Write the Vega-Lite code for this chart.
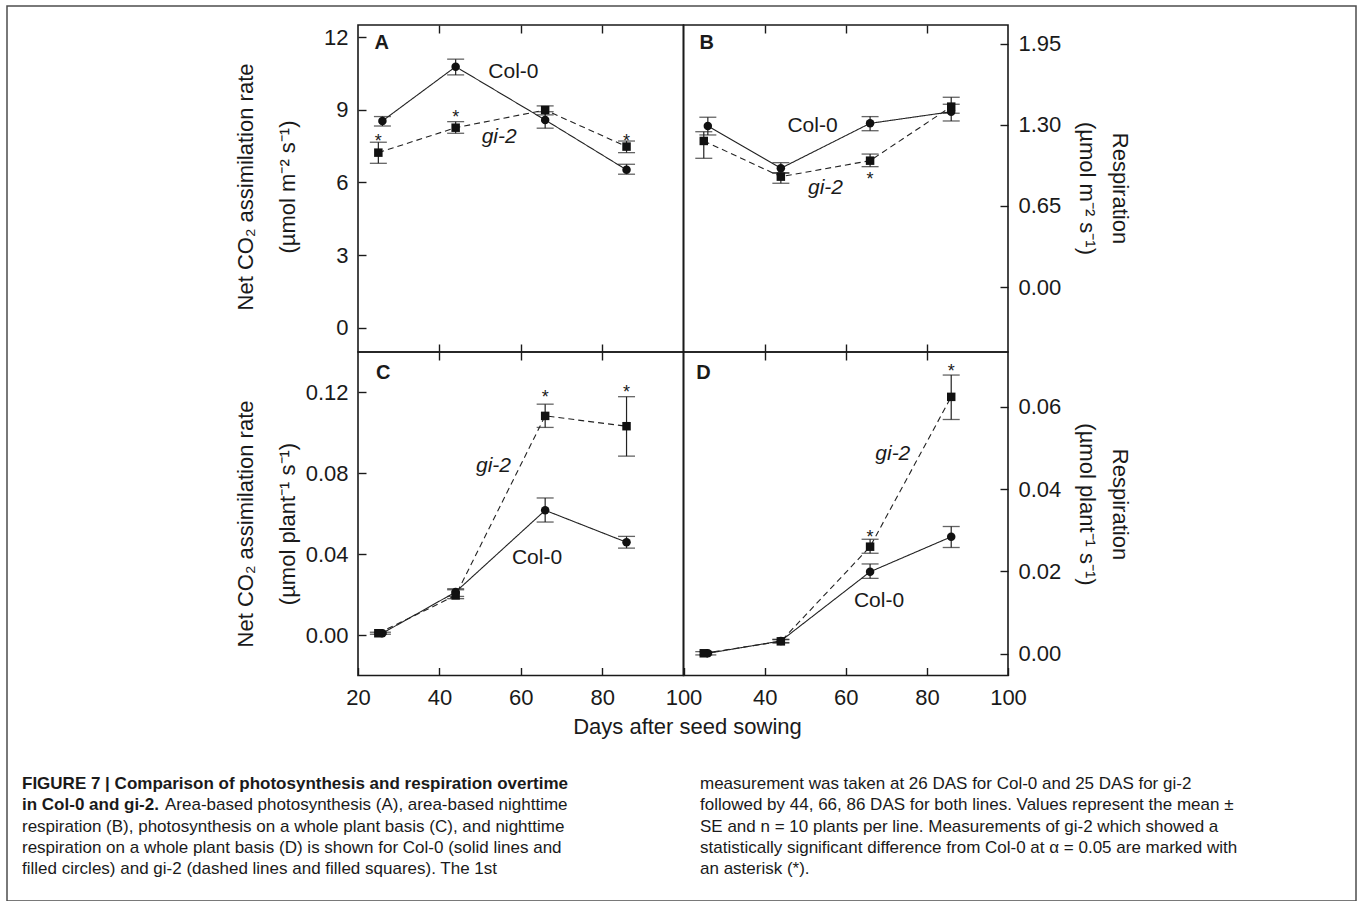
{
  "$schema": "https://vega.github.io/schema/vega-lite/v6.json",
  "width": 1357,
  "height": 901,
  "autosize": {"type": "fit", "contains": "padding"},
  "padding": {"left": 7, "top": 6, "right": 1, "bottom": 0},
  "background": "white",
  "config": {
    "view": {"stroke": "#4d4d4d", "strokeWidth": 1.5},
    "font": "Liberation Sans",
    "axis": {
      "grid": false, "domain": false,
      "tickColor": "#1a1a1a", "tickWidth": 1.4, "tickSize": -8,
      "labelFont": "Liberation Sans", "labelFontSize": 22, "labelColor": "#1a1a1a",
      "labelPadding": 18, "labelFlush": false, "labelOverlap": false,
      "titleFont": "Liberation Sans", "titleFontSize": 22, "titleFontWeight": "normal",
      "titleColor": "#1a1a1a", "titleAlign": "center", "titleBaseline": "middle"
    }
  },
  "datasets": {
    "pts": [
      {"panel": "A", "line": "Col-0", "das": 26, "mean": 8.54, "lo": 8.33, "hi": 8.72},
      {"panel": "A", "line": "Col-0", "das": 44, "mean": 10.78, "lo": 10.44, "hi": 11.09},
      {"panel": "A", "line": "Col-0", "das": 66, "mean": 8.58, "lo": 8.24, "hi": 8.92},
      {"panel": "A", "line": "Col-0", "das": 86, "mean": 6.52, "lo": 6.34, "hi": 6.75},
      {"panel": "A", "line": "gi-2", "das": 25, "mean": 7.23, "lo": 6.79, "hi": 7.66},
      {"panel": "A", "line": "gi-2", "das": 44, "mean": 8.26, "lo": 8.03, "hi": 8.51},
      {"panel": "A", "line": "gi-2", "das": 66, "mean": 8.99, "lo": 8.79, "hi": 9.16},
      {"panel": "A", "line": "gi-2", "das": 86, "mean": 7.48, "lo": 7.23, "hi": 7.71},
      {"panel": "B", "line": "Col-0", "das": 26, "mean": 1.291, "lo": 1.219, "hi": 1.361},
      {"panel": "B", "line": "Col-0", "das": 44, "mean": 0.952, "lo": 0.912, "hi": 0.997},
      {"panel": "B", "line": "Col-0", "das": 66, "mean": 1.312, "lo": 1.253, "hi": 1.366},
      {"panel": "B", "line": "Col-0", "das": 86, "mean": 1.405, "lo": 1.331, "hi": 1.465},
      {"panel": "B", "line": "gi-2", "das": 25, "mean": 1.171, "lo": 1.032, "hi": 1.245},
      {"panel": "B", "line": "gi-2", "das": 44, "mean": 0.885, "lo": 0.832, "hi": 0.917},
      {"panel": "B", "line": "gi-2", "das": 66, "mean": 1.013, "lo": 0.965, "hi": 1.066},
      {"panel": "B", "line": "gi-2", "das": 86, "mean": 1.446, "lo": 1.393, "hi": 1.521},
      {"panel": "C", "line": "Col-0", "das": 26, "mean": 0.0009, "lo": 0.0004, "hi": 0.0014},
      {"panel": "C", "line": "Col-0", "das": 44, "mean": 0.0213, "lo": 0.0191, "hi": 0.0229},
      {"panel": "C", "line": "Col-0", "das": 66, "mean": 0.0617, "lo": 0.0559, "hi": 0.0678},
      {"panel": "C", "line": "Col-0", "das": 86, "mean": 0.0459, "lo": 0.043, "hi": 0.0488},
      {"panel": "C", "line": "gi-2", "das": 25, "mean": 0.0009, "lo": 0.0004, "hi": 0.0014},
      {"panel": "C", "line": "gi-2", "das": 44, "mean": 0.0196, "lo": 0.018, "hi": 0.0224},
      {"panel": "C", "line": "gi-2", "das": 66, "mean": 0.1084, "lo": 0.1027, "hi": 0.1142},
      {"panel": "C", "line": "gi-2", "das": 86, "mean": 0.1033, "lo": 0.0885, "hi": 0.1179},
      {"panel": "D", "line": "Col-0", "das": 26, "mean": 0.0001, "lo": -0.0003, "hi": 0.0005},
      {"panel": "D", "line": "Col-0", "das": 44, "mean": 0.0031, "lo": 0.0027, "hi": 0.0035},
      {"panel": "D", "line": "Col-0", "das": 66, "mean": 0.0199, "lo": 0.0183, "hi": 0.0218},
      {"panel": "D", "line": "Col-0", "das": 86, "mean": 0.0284, "lo": 0.0258, "hi": 0.0309},
      {"panel": "D", "line": "gi-2", "das": 25, "mean": 0.0001, "lo": -0.0003, "hi": 0.0005},
      {"panel": "D", "line": "gi-2", "das": 44, "mean": 0.003, "lo": 0.0026, "hi": 0.0034},
      {"panel": "D", "line": "gi-2", "das": 66, "mean": 0.026, "lo": 0.0244, "hi": 0.0278},
      {"panel": "D", "line": "gi-2", "das": 86, "mean": 0.0624, "lo": 0.0569, "hi": 0.0677}
    ],
    "stars": [
      {"panel": "A", "das": 25, "val": 7.89},
      {"panel": "A", "das": 44, "val": 8.86},
      {"panel": "A", "das": 86, "val": 7.89},
      {"panel": "B", "das": 66, "val": 0.898},
      {"panel": "C", "das": 66, "val": 0.1195},
      {"panel": "C", "das": 86, "val": 0.1223},
      {"panel": "D", "das": 66, "val": 0.0294},
      {"panel": "D", "das": 86, "val": 0.0697}
    ],
    "labels": [
      {"panel": "A", "line": "Col-0", "das": 58.2, "val": 10.57},
      {"panel": "A", "line": "gi-2", "das": 54.7, "val": 7.86},
      {"panel": "B", "line": "Col-0", "das": 51.8, "val": 1.292},
      {"panel": "B", "line": "gi-2", "das": 55.0, "val": 0.792},
      {"panel": "C", "line": "Col-0", "das": 64.0, "val": 0.0382},
      {"panel": "C", "line": "gi-2", "das": 53.3, "val": 0.0836},
      {"panel": "D", "line": "Col-0", "das": 68.2, "val": 0.01285},
      {"panel": "D", "line": "gi-2", "das": 71.6, "val": 0.0485}
    ],
    "letters": [
      {"panel": "A", "das": 25.8, "val": 11.75},
      {"panel": "B", "das": 25.7, "val": 1.954},
      {"panel": "C", "das": 26.2, "val": 0.1294},
      {"panel": "D", "das": 24.9, "val": 0.0681}
    ],
    "caption": [
      {"col": 0, "row": 1, "part": "head", "text": "FIGURE 7 | Comparison of photosynthesis and respiration overtime"},
      {"col": 0, "row": 2, "part": "head", "text": "in Col-0 and gi-2."},
      {"col": 0, "row": 2, "part": "rest", "text": "Area-based photosynthesis (A), area-based nighttime"},
      {"col": 0, "row": 3, "part": "body", "text": "respiration (B), photosynthesis on a whole plant basis (C), and nighttime"},
      {"col": 0, "row": 4, "part": "body", "text": "respiration on a whole plant basis (D) is shown for Col-0 (solid lines and"},
      {"col": 0, "row": 5, "part": "body", "text": "filled circles) and gi-2 (dashed lines and filled squares). The 1st"},
      {"col": 1, "row": 1, "part": "body", "text": "measurement was taken at 26 DAS for Col-0 and 25 DAS for gi-2"},
      {"col": 1, "row": 2, "part": "body", "text": "followed by 44, 66, 86 DAS for both lines. Values represent the mean ±"},
      {"col": 1, "row": 3, "part": "body", "text": "SE and n = 10 plants per line. Measurements of gi-2 which showed a"},
      {"col": 1, "row": 4, "part": "body", "text": "statistically significant difference from Col-0 at α = 0.05 are marked with"},
      {"col": 1, "row": 5, "part": "body", "text": "an asterisk (*)."}
    ]
  },
  "layer": [
    {
      "layer": [
        {
          "data": {"name": "pts"},
          "transform": [{"filter": "datum.panel === 'A'"}],
          "mark": {"type": "line", "color": "#222222", "strokeWidth": 1.1},
          "encoding": {
            "x": {"field": "das", "type": "quantitative",
              "scale": {"domain": [20, 100], "range": [351, 676.5], "nice": false, "zero": false},
              "axis": {"orient": "bottom", "offset": -549, "values": [40, 60, 80], "labels": false, "title": null}},
            "y": {"field": "mean", "type": "quantitative",
              "scale": {"domain": [-1, 12.5], "range": [346, 19], "nice": false, "zero": false},
              "axis": {"orient": "left", "offset": -351, "values": [0, 3, 6, 9, 12], "format": "d",
                "title": ["Net CO₂ assimilation rate", "(µmol m⁻² s⁻¹)"],
                "titleAngle": -90, "titleX": -113, "titleY": 180.5, "titleLineHeight": 42}},
            "strokeDash": {"field": "line", "type": "nominal", "scale": {"domain": ["Col-0", "gi-2"], "range": [[1, 0], [6, 4]]}, "legend": null}
          }
        },
        {
          "data": {"name": "pts"},
          "transform": [{"filter": "datum.panel === 'A'"}],
          "mark": {"type": "rule", "color": "#222222", "strokeWidth": 1.2},
          "encoding": {
            "x": {"field": "das", "type": "quantitative",
              "axis": {"orient": "top", "offset": -19, "values": [40, 60, 80], "labels": false, "title": null}},
            "y": {"field": "lo", "type": "quantitative", "axis": null},
            "y2": {"field": "hi"}
          }
        },
        {
          "data": {"name": "pts"},
          "transform": [{"filter": "datum.panel === 'A'"}],
          "mark": {"type": "tick", "orient": "horizontal", "color": "#222222", "size": 17, "thickness": 1.3},
          "encoding": {
            "x": {"field": "das", "type": "quantitative", "axis": null},
            "y": {"field": "lo", "type": "quantitative", "axis": null}
          }
        },
        {
          "data": {"name": "pts"},
          "transform": [{"filter": "datum.panel === 'A'"}],
          "mark": {"type": "tick", "orient": "horizontal", "color": "#222222", "size": 17, "thickness": 1.3},
          "encoding": {
            "x": {"field": "das", "type": "quantitative", "axis": null},
            "y": {"field": "hi", "type": "quantitative", "axis": null}
          }
        },
        {
          "data": {"name": "pts"},
          "transform": [{"filter": "datum.panel === 'A'"}],
          "mark": {"type": "point", "filled": true, "color": "#111111", "opacity": 1, "size": 72},
          "encoding": {
            "x": {"field": "das", "type": "quantitative", "axis": null},
            "y": {"field": "mean", "type": "quantitative", "axis": null},
            "shape": {"field": "line", "type": "nominal", "scale": {"domain": ["Col-0", "gi-2"], "range": ["circle", "square"]}, "legend": null}
          }
        },
        {
          "data": {"name": "letters"},
          "transform": [{"filter": "datum.panel === 'A'"}],
          "mark": {"type": "rect", "fillOpacity": 0, "stroke": "#1a1a1a", "strokeWidth": 1.6},
          "encoding": {
            "x": {"datum": 20, "type": "quantitative", "axis": null},
            "x2": {"datum": 100},
            "y": {"datum": -1, "type": "quantitative", "axis": null},
            "y2": {"datum": 12.5}
          }
        },
        {
          "data": {"name": "letters"},
          "transform": [{"filter": "datum.panel === 'A'"}],
          "mark": {"type": "text", "fontWeight": "bold", "fontSize": 20, "align": "center", "baseline": "middle", "color": "#1a1a1a"},
          "encoding": {
            "x": {"field": "das", "type": "quantitative", "axis": null},
            "y": {"field": "val", "type": "quantitative", "axis": null},
            "text": {"field": "panel"}
          }
        },
        {
          "data": {"name": "stars"},
          "transform": [{"filter": "datum.panel === 'A'"}],
          "mark": {"type": "text", "fontSize": 18, "align": "center", "baseline": "middle", "dy": 5, "color": "#1a1a1a", "text": "*"},
          "encoding": {
            "x": {"field": "das", "type": "quantitative", "axis": null},
            "y": {"field": "val", "type": "quantitative", "axis": null}
          }
        },
        {
          "data": {"name": "labels"},
          "transform": [{"filter": "datum.panel === 'A' && datum.line === 'Col-0'"}],
          "mark": {"type": "text", "fontSize": 21, "align": "center", "baseline": "middle", "color": "#1a1a1a"},
          "encoding": {
            "x": {"field": "das", "type": "quantitative", "axis": null},
            "y": {"field": "val", "type": "quantitative", "axis": null},
            "text": {"field": "line"}
          }
        },
        {
          "data": {"name": "labels"},
          "transform": [{"filter": "datum.panel === 'A' && datum.line === 'gi-2'"}],
          "mark": {"type": "text", "fontSize": 21, "fontStyle": "italic", "align": "center", "baseline": "middle", "color": "#1a1a1a"},
          "encoding": {
            "x": {"field": "das", "type": "quantitative", "axis": null},
            "y": {"field": "val", "type": "quantitative", "axis": null},
            "text": {"field": "line"}
          }
        }
      ],
      "resolve": {"axis": {"x": "independent", "y": "independent"}}
    },
    {
      "layer": [
        {
          "data": {"name": "pts"},
          "transform": [{"filter": "datum.panel === 'B'"}],
          "mark": {"type": "line", "color": "#222222", "strokeWidth": 1.1},
          "encoding": {
            "x": {"field": "das", "type": "quantitative",
              "scale": {"domain": [20, 100], "range": [676.5, 1001], "nice": false, "zero": false},
              "axis": {"orient": "bottom", "offset": -549, "values": [40, 60, 80], "labels": false, "title": null}},
            "y": {"field": "mean", "type": "quantitative",
              "scale": {"domain": [-0.52, 2.1], "range": [346, 19], "nice": false, "zero": false},
              "axis": {"orient": "right", "offset": -348, "values": [0, 0.65, 1.3, 1.95], "format": ".2f",
                "title": ["Respiration", "(µmol m⁻² s⁻¹)"],
                "titleAngle": 90, "titleX": 111.4, "titleY": 182, "titleLineHeight": 33}},
            "strokeDash": {"field": "line", "type": "nominal", "scale": {"domain": ["Col-0", "gi-2"], "range": [[1, 0], [6, 4]]}, "legend": null}
          }
        },
        {
          "data": {"name": "pts"},
          "transform": [{"filter": "datum.panel === 'B'"}],
          "mark": {"type": "rule", "color": "#222222", "strokeWidth": 1.2},
          "encoding": {
            "x": {"field": "das", "type": "quantitative",
              "axis": {"orient": "top", "offset": -19, "values": [40, 60, 80], "labels": false, "title": null}},
            "y": {"field": "lo", "type": "quantitative", "axis": null},
            "y2": {"field": "hi"}
          }
        },
        {
          "data": {"name": "pts"},
          "transform": [{"filter": "datum.panel === 'B'"}],
          "mark": {"type": "tick", "orient": "horizontal", "color": "#222222", "size": 17, "thickness": 1.3},
          "encoding": {
            "x": {"field": "das", "type": "quantitative", "axis": null},
            "y": {"field": "lo", "type": "quantitative", "axis": null}
          }
        },
        {
          "data": {"name": "pts"},
          "transform": [{"filter": "datum.panel === 'B'"}],
          "mark": {"type": "tick", "orient": "horizontal", "color": "#222222", "size": 17, "thickness": 1.3},
          "encoding": {
            "x": {"field": "das", "type": "quantitative", "axis": null},
            "y": {"field": "hi", "type": "quantitative", "axis": null}
          }
        },
        {
          "data": {"name": "pts"},
          "transform": [{"filter": "datum.panel === 'B'"}],
          "mark": {"type": "point", "filled": true, "color": "#111111", "opacity": 1, "size": 72},
          "encoding": {
            "x": {"field": "das", "type": "quantitative", "axis": null},
            "y": {"field": "mean", "type": "quantitative", "axis": null},
            "shape": {"field": "line", "type": "nominal", "scale": {"domain": ["Col-0", "gi-2"], "range": ["circle", "square"]}, "legend": null}
          }
        },
        {
          "data": {"name": "letters"},
          "transform": [{"filter": "datum.panel === 'B'"}],
          "mark": {"type": "rect", "fillOpacity": 0, "stroke": "#1a1a1a", "strokeWidth": 1.6},
          "encoding": {
            "x": {"datum": 20, "type": "quantitative", "axis": null},
            "x2": {"datum": 100},
            "y": {"datum": -0.52, "type": "quantitative", "axis": null},
            "y2": {"datum": 2.1}
          }
        },
        {
          "data": {"name": "letters"},
          "transform": [{"filter": "datum.panel === 'B'"}],
          "mark": {"type": "text", "fontWeight": "bold", "fontSize": 20, "align": "center", "baseline": "middle", "color": "#1a1a1a"},
          "encoding": {
            "x": {"field": "das", "type": "quantitative", "axis": null},
            "y": {"field": "val", "type": "quantitative", "axis": null},
            "text": {"field": "panel"}
          }
        },
        {
          "data": {"name": "stars"},
          "transform": [{"filter": "datum.panel === 'B'"}],
          "mark": {"type": "text", "fontSize": 18, "align": "center", "baseline": "middle", "dy": 5, "color": "#1a1a1a", "text": "*"},
          "encoding": {
            "x": {"field": "das", "type": "quantitative", "axis": null},
            "y": {"field": "val", "type": "quantitative", "axis": null}
          }
        },
        {
          "data": {"name": "labels"},
          "transform": [{"filter": "datum.panel === 'B' && datum.line === 'Col-0'"}],
          "mark": {"type": "text", "fontSize": 21, "align": "center", "baseline": "middle", "color": "#1a1a1a"},
          "encoding": {
            "x": {"field": "das", "type": "quantitative", "axis": null},
            "y": {"field": "val", "type": "quantitative", "axis": null},
            "text": {"field": "line"}
          }
        },
        {
          "data": {"name": "labels"},
          "transform": [{"filter": "datum.panel === 'B' && datum.line === 'gi-2'"}],
          "mark": {"type": "text", "fontSize": 21, "fontStyle": "italic", "align": "center", "baseline": "middle", "color": "#1a1a1a"},
          "encoding": {
            "x": {"field": "das", "type": "quantitative", "axis": null},
            "y": {"field": "val", "type": "quantitative", "axis": null},
            "text": {"field": "line"}
          }
        }
      ],
      "resolve": {"axis": {"x": "independent", "y": "independent"}}
    },
    {
      "layer": [
        {
          "data": {"name": "pts"},
          "transform": [{"filter": "datum.panel === 'C'"}],
          "mark": {"type": "line", "color": "#222222", "strokeWidth": 1.1},
          "encoding": {
            "x": {"field": "das", "type": "quantitative",
              "scale": {"domain": [20, 100], "range": [351, 676.5], "nice": false, "zero": false},
              "axis": {"orient": "bottom", "offset": -225.5, "values": [20, 40, 60, 80, 100], "labelPadding": 20,
                "title": "Days after seed sowing", "titleX": 680, "titleY": 57.5, "titleAngle": 0, "titleBaseline": "alphabetic"}},
            "y": {"field": "mean", "type": "quantitative",
              "scale": {"domain": [-0.02, 0.14], "range": [669.5, 346], "nice": false, "zero": false},
              "axis": {"orient": "left", "offset": -351, "values": [0, 0.04, 0.08, 0.12], "format": ".2f",
                "title": ["Net CO₂ assimilation rate", "(µmol plant⁻¹ s⁻¹)"],
                "titleAngle": -90, "titleX": -113, "titleY": 517.5, "titleLineHeight": 42}},
            "strokeDash": {"field": "line", "type": "nominal", "scale": {"domain": ["Col-0", "gi-2"], "range": [[1, 0], [6, 4]]}, "legend": null}
          }
        },
        {
          "data": {"name": "pts"},
          "transform": [{"filter": "datum.panel === 'C'"}],
          "mark": {"type": "rule", "color": "#222222", "strokeWidth": 1.2},
          "encoding": {
            "x": {"field": "das", "type": "quantitative",
              "axis": {"orient": "top", "offset": -346, "values": [40, 60, 80], "labels": false, "title": null}},
            "y": {"field": "lo", "type": "quantitative", "axis": null},
            "y2": {"field": "hi"}
          }
        },
        {
          "data": {"name": "pts"},
          "transform": [{"filter": "datum.panel === 'C'"}],
          "mark": {"type": "tick", "orient": "horizontal", "color": "#222222", "size": 17, "thickness": 1.3},
          "encoding": {
            "x": {"field": "das", "type": "quantitative", "axis": null},
            "y": {"field": "lo", "type": "quantitative", "axis": null}
          }
        },
        {
          "data": {"name": "pts"},
          "transform": [{"filter": "datum.panel === 'C'"}],
          "mark": {"type": "tick", "orient": "horizontal", "color": "#222222", "size": 17, "thickness": 1.3},
          "encoding": {
            "x": {"field": "das", "type": "quantitative", "axis": null},
            "y": {"field": "hi", "type": "quantitative", "axis": null}
          }
        },
        {
          "data": {"name": "pts"},
          "transform": [{"filter": "datum.panel === 'C'"}],
          "mark": {"type": "point", "filled": true, "color": "#111111", "opacity": 1, "size": 72},
          "encoding": {
            "x": {"field": "das", "type": "quantitative", "axis": null},
            "y": {"field": "mean", "type": "quantitative", "axis": null},
            "shape": {"field": "line", "type": "nominal", "scale": {"domain": ["Col-0", "gi-2"], "range": ["circle", "square"]}, "legend": null}
          }
        },
        {
          "data": {"name": "letters"},
          "transform": [{"filter": "datum.panel === 'C'"}],
          "mark": {"type": "rect", "fillOpacity": 0, "stroke": "#1a1a1a", "strokeWidth": 1.6},
          "encoding": {
            "x": {"datum": 20, "type": "quantitative", "axis": null},
            "x2": {"datum": 100},
            "y": {"datum": -0.02, "type": "quantitative", "axis": null},
            "y2": {"datum": 0.14}
          }
        },
        {
          "data": {"name": "letters"},
          "transform": [{"filter": "datum.panel === 'C'"}],
          "mark": {"type": "text", "fontWeight": "bold", "fontSize": 20, "align": "center", "baseline": "middle", "color": "#1a1a1a"},
          "encoding": {
            "x": {"field": "das", "type": "quantitative", "axis": null},
            "y": {"field": "val", "type": "quantitative", "axis": null},
            "text": {"field": "panel"}
          }
        },
        {
          "data": {"name": "stars"},
          "transform": [{"filter": "datum.panel === 'C'"}],
          "mark": {"type": "text", "fontSize": 18, "align": "center", "baseline": "middle", "dy": 5, "color": "#1a1a1a", "text": "*"},
          "encoding": {
            "x": {"field": "das", "type": "quantitative", "axis": null},
            "y": {"field": "val", "type": "quantitative", "axis": null}
          }
        },
        {
          "data": {"name": "labels"},
          "transform": [{"filter": "datum.panel === 'C' && datum.line === 'Col-0'"}],
          "mark": {"type": "text", "fontSize": 21, "align": "center", "baseline": "middle", "color": "#1a1a1a"},
          "encoding": {
            "x": {"field": "das", "type": "quantitative", "axis": null},
            "y": {"field": "val", "type": "quantitative", "axis": null},
            "text": {"field": "line"}
          }
        },
        {
          "data": {"name": "labels"},
          "transform": [{"filter": "datum.panel === 'C' && datum.line === 'gi-2'"}],
          "mark": {"type": "text", "fontSize": 21, "fontStyle": "italic", "align": "center", "baseline": "middle", "color": "#1a1a1a"},
          "encoding": {
            "x": {"field": "das", "type": "quantitative", "axis": null},
            "y": {"field": "val", "type": "quantitative", "axis": null},
            "text": {"field": "line"}
          }
        }
      ],
      "resolve": {"axis": {"x": "independent", "y": "independent"}}
    },
    {
      "layer": [
        {
          "data": {"name": "pts"},
          "transform": [{"filter": "datum.panel === 'D'"}],
          "mark": {"type": "line", "color": "#222222", "strokeWidth": 1.1},
          "encoding": {
            "x": {"field": "das", "type": "quantitative",
              "scale": {"domain": [20, 100], "range": [676.5, 1001], "nice": false, "zero": false},
              "axis": {"orient": "bottom", "offset": -225.5, "values": [40, 60, 80, 100], "labelPadding": 20, "title": null}},
            "y": {"field": "mean", "type": "quantitative",
              "scale": {"domain": [-0.0053, 0.0733], "range": [669.5, 346], "nice": false, "zero": false},
              "axis": {"orient": "right", "offset": -348, "values": [0, 0.02, 0.04, 0.06], "format": ".2f",
                "title": ["Respiration", "(µmol plant⁻¹ s⁻¹)"],
                "titleAngle": 90, "titleX": 111.4, "titleY": 498, "titleLineHeight": 33}},
            "strokeDash": {"field": "line", "type": "nominal", "scale": {"domain": ["Col-0", "gi-2"], "range": [[1, 0], [6, 4]]}, "legend": null}
          }
        },
        {
          "data": {"name": "pts"},
          "transform": [{"filter": "datum.panel === 'D'"}],
          "mark": {"type": "rule", "color": "#222222", "strokeWidth": 1.2},
          "encoding": {
            "x": {"field": "das", "type": "quantitative",
              "axis": {"orient": "top", "offset": -346, "values": [40, 60, 80], "labels": false, "title": null}},
            "y": {"field": "lo", "type": "quantitative", "axis": null},
            "y2": {"field": "hi"}
          }
        },
        {
          "data": {"name": "pts"},
          "transform": [{"filter": "datum.panel === 'D'"}],
          "mark": {"type": "tick", "orient": "horizontal", "color": "#222222", "size": 17, "thickness": 1.3},
          "encoding": {
            "x": {"field": "das", "type": "quantitative", "axis": null},
            "y": {"field": "lo", "type": "quantitative", "axis": null}
          }
        },
        {
          "data": {"name": "pts"},
          "transform": [{"filter": "datum.panel === 'D'"}],
          "mark": {"type": "tick", "orient": "horizontal", "color": "#222222", "size": 17, "thickness": 1.3},
          "encoding": {
            "x": {"field": "das", "type": "quantitative", "axis": null},
            "y": {"field": "hi", "type": "quantitative", "axis": null}
          }
        },
        {
          "data": {"name": "pts"},
          "transform": [{"filter": "datum.panel === 'D'"}],
          "mark": {"type": "point", "filled": true, "color": "#111111", "opacity": 1, "size": 72},
          "encoding": {
            "x": {"field": "das", "type": "quantitative", "axis": null},
            "y": {"field": "mean", "type": "quantitative", "axis": null},
            "shape": {"field": "line", "type": "nominal", "scale": {"domain": ["Col-0", "gi-2"], "range": ["circle", "square"]}, "legend": null}
          }
        },
        {
          "data": {"name": "letters"},
          "transform": [{"filter": "datum.panel === 'D'"}],
          "mark": {"type": "rect", "fillOpacity": 0, "stroke": "#1a1a1a", "strokeWidth": 1.6},
          "encoding": {
            "x": {"datum": 20, "type": "quantitative", "axis": null},
            "x2": {"datum": 100},
            "y": {"datum": -0.0053, "type": "quantitative", "axis": null},
            "y2": {"datum": 0.0733}
          }
        },
        {
          "data": {"name": "letters"},
          "transform": [{"filter": "datum.panel === 'D'"}],
          "mark": {"type": "text", "fontWeight": "bold", "fontSize": 20, "align": "center", "baseline": "middle", "color": "#1a1a1a"},
          "encoding": {
            "x": {"field": "das", "type": "quantitative", "axis": null},
            "y": {"field": "val", "type": "quantitative", "axis": null},
            "text": {"field": "panel"}
          }
        },
        {
          "data": {"name": "stars"},
          "transform": [{"filter": "datum.panel === 'D'"}],
          "mark": {"type": "text", "fontSize": 18, "align": "center", "baseline": "middle", "dy": 5, "color": "#1a1a1a", "text": "*"},
          "encoding": {
            "x": {"field": "das", "type": "quantitative", "axis": null},
            "y": {"field": "val", "type": "quantitative", "axis": null}
          }
        },
        {
          "data": {"name": "labels"},
          "transform": [{"filter": "datum.panel === 'D' && datum.line === 'Col-0'"}],
          "mark": {"type": "text", "fontSize": 21, "align": "center", "baseline": "middle", "color": "#1a1a1a"},
          "encoding": {
            "x": {"field": "das", "type": "quantitative", "axis": null},
            "y": {"field": "val", "type": "quantitative", "axis": null},
            "text": {"field": "line"}
          }
        },
        {
          "data": {"name": "labels"},
          "transform": [{"filter": "datum.panel === 'D' && datum.line === 'gi-2'"}],
          "mark": {"type": "text", "fontSize": 21, "fontStyle": "italic", "align": "center", "baseline": "middle", "color": "#1a1a1a"},
          "encoding": {
            "x": {"field": "das", "type": "quantitative", "axis": null},
            "y": {"field": "val", "type": "quantitative", "axis": null},
            "text": {"field": "line"}
          }
        }
      ],
      "resolve": {"axis": {"x": "independent", "y": "independent"}}
    },
    {
      "data": {"name": "caption"},
      "layer": [
        {
          "transform": [{"filter": "datum.part === 'head'"}],
          "mark": {"type": "text", "align": "left", "baseline": "middle", "fontSize": 17, "fontWeight": "bold", "color": "#1a1a1a"},
          "encoding": {
            "x": {"field": "col", "type": "quantitative", "scale": {"domain": [0, 1], "range": [15, 693], "nice": false, "zero": false}, "axis": null},
            "y": {"field": "row", "type": "quantitative", "scale": {"domain": [1, 5], "range": [778, 863], "nice": false, "zero": false}, "axis": null},
            "text": {"field": "text"}
          }
        },
        {
          "transform": [{"filter": "datum.part === 'body'"}],
          "mark": {"type": "text", "align": "left", "baseline": "middle", "fontSize": 17, "color": "#1a1a1a"},
          "encoding": {
            "x": {"field": "col", "type": "quantitative", "axis": null},
            "y": {"field": "row", "type": "quantitative", "axis": null},
            "text": {"field": "text"}
          }
        },
        {
          "transform": [{"filter": "datum.part === 'rest'"}],
          "mark": {"type": "text", "align": "left", "baseline": "middle", "fontSize": 17, "dx": 143, "color": "#1a1a1a"},
          "encoding": {
            "x": {"field": "col", "type": "quantitative", "axis": null},
            "y": {"field": "row", "type": "quantitative", "axis": null},
            "text": {"field": "text"}
          }
        }
      ]
    }
  ],
  "resolve": {
    "scale": {"x": "independent", "y": "independent"},
    "axis": {"x": "independent", "y": "independent"}
  }
}
